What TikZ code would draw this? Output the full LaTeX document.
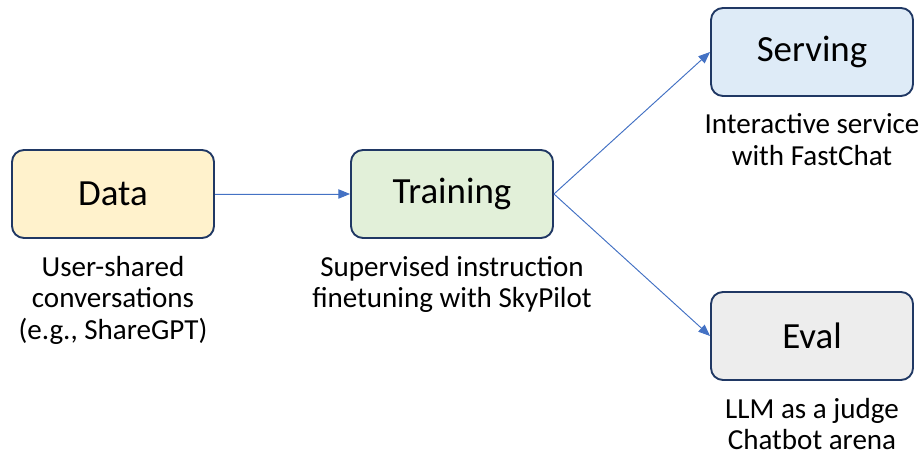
\documentclass[tikz,border=0pt]{standalone}
\usepackage{fontspec}
\setmainfont{Carlito}
\usetikzlibrary{positioning,arrows.meta}
\definecolor{boxline}{HTML}{203864}
\definecolor{datafill}{HTML}{FFF2CC}
\definecolor{trainfill}{HTML}{E2F0D9}
\definecolor{servefill}{HTML}{DEEBF7}
\definecolor{evalfill}{HTML}{EDEDED}
\definecolor{flowblue}{HTML}{4472C4}
\begin{document}
\begin{tikzpicture}[
    x=0.03cm, y=-0.03cm,
    box/.style={rectangle, rounded corners=0.36cm, draw=boxline, line width=1.6pt, minimum width=6.06cm, minimum height=2.64cm, font=\fontsize{31.5}{36}\selectfont},
    caption/.style={align=center, inner sep=0pt, font=\fontsize{24.8}{27.2}\selectfont},
    flow/.style={-{Triangle[length=10pt,width=8pt]}, draw=flowblue, fill=flowblue, line width=0.8pt}
]
    \useasboundingbox (0,0) rectangle (922,455);
    % Stages
    \node[box, fill=datafill] (data) at (113,194) {Data};
    \node[box, fill=trainfill] (training) at (452,194) {Training};
    \node[box, fill=servefill] (serving) at (812,52) {Serving};
    \node[box, fill=evalfill] (eval) at (812,336) {Eval};

    % Captions
    \node[caption, below=0.5cm of data] (datatext) {User-shared\\conversations\\(e.g., ShareGPT)};
    \node[caption, below=0.5cm of training] (trainingtext) {Supervised instruction\\finetuning with SkyPilot};
    \node[caption, below=0.5cm of serving] (servingtext) {Interactive service\\with FastChat};
    \node[caption, below=0.5cm of eval] (evaltext) {LLM as a judge\\Chatbot arena};

    % Flow
    \draw[flow] (data) -- (training);
    \draw[flow] (training.east) -- (serving.west);
    \draw[flow] (training.east) -- (eval.west);
\end{tikzpicture}
\end{document}
